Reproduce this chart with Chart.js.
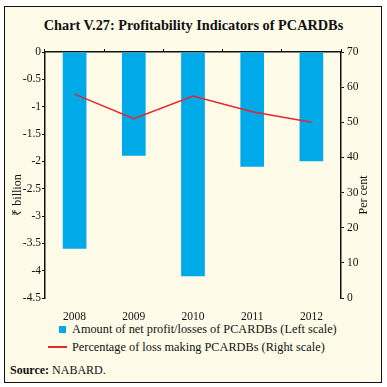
<!DOCTYPE html>
<html><head><meta charset="utf-8">
<script src="https://cdn.jsdelivr.net/npm/chart.js@4/dist/chart.umd.min.js"></script>
<style>
html,body{margin:0;padding:0;background:#fff;width:387px;height:387px;overflow:hidden;}
#frame{position:absolute;left:4px;top:6px;width:376px;height:375px;border:1.5px solid #111;background:#fefce8;}
#title{position:absolute;left:0;top:17px;width:387px;text-align:center;font:bold 14.3px "Liberation Serif",serif;color:#111;}
#wrap{position:absolute;left:0;top:40px;width:387px;height:280px;}
.leg{position:absolute;left:72px;font:12.3px "Liberation Serif",serif;color:#111;white-space:nowrap;}
#sw1{position:absolute;left:59px;top:326px;width:7px;height:7px;background:#00a9e8;}
#sw2{position:absolute;left:48px;top:346px;width:19px;height:2px;background:#e8262b;}
#src{position:absolute;left:10px;top:363px;font:12px "Liberation Serif",serif;color:#111;}
</style></head><body>
<div id="frame"></div>
<div id="title">Chart V.27: Profitability Indicators of PCARDBs</div>
<div id="wrap"><canvas id="c" width="387" height="280"></canvas></div>
<div id="sw1"></div><div class="leg" style="top:322px">Amount of net profit/losses of PCARDBs (Left scale)</div>
<div id="sw2"></div><div class="leg" style="top:340px">Percentage of loss making PCARDBs (Right scale)</div>
<div id="src"><b>Source:</b> NABARD.</div>
<script>
const categories = ['2008','2009','2010','2011','2012'];
const netProfitLoss = [-3.6, -1.9, -4.1, -2.1, -2.0];
const lossMakingPct = [58, 51, 57.5, 53, 50];
const leftTitle = '₹ billion';
const rightTitle = 'Per cent';

const tickFont = {family:'Liberation Serif', size:11.5};
const titlesPlugin = {
  id:'titles',
  afterDraw(chart){
    const ctx = chart.ctx;
    const cy = 155; // canvas y (page y 195)
    [[18, leftTitle],[364, rightTitle]].forEach(([x, t]) => {
      ctx.save();
      ctx.fillStyle = '#111';
      ctx.font = '12px "Liberation Serif"';
      ctx.textAlign = 'center';
      ctx.textBaseline = 'middle';
      ctx.translate(x, cy); ctx.rotate(-Math.PI/2); ctx.fillText(t, 0, 0);
      ctx.restore();
    });
  }
};

new Chart(document.getElementById('c'), {
  data:{
    labels: categories,
    datasets:[
      {type:'line', data: lossMakingPct, yAxisID:'y2', xAxisID:'x', borderColor:'#e8262b', borderWidth:1.5, pointRadius:0, tension:0, order:0},
      {type:'bar', data: netProfitLoss, yAxisID:'y', xAxisID:'x', backgroundColor:'#00a9e8', barPercentage:0.4, categoryPercentage:1, order:1}
    ]
  },
  options:{
    responsive:false, animation:false,
    layout:{padding:0},
    plugins:{legend:{display:false}, tooltip:{enabled:false}},
    scales:{
      x:{type:'category', position:'bottom', offset:true,
        grid:{display:false}, border:{display:false},
        ticks:{font:tickFont, color:'#111', padding:4, maxRotation:0},
        afterFit(s){ s.height = 22; }},
      xt:{type:'category', position:'top', labels: categories, offset:true,
        grid:{offset:true, drawOnChartArea:false, tickLength:3, color:'#111', lineWidth:1},
        border:{display:true, color:'#111', width:1.5},
        ticks:{display:false},
        afterFit(s){ s.height = 12; }},
      y:{position:'left', min:-4.5, max:0,
        ticks:{stepSize:0.5, font:tickFont, color:'#111', padding:1, callback:(v)=>String(v)},
        grid:{drawOnChartArea:false, tickLength:3, color:'#111'},
        border:{display:true, color:'#111', width:1.5},
        afterFit(s){ s.width = 45; }},
      y2:{position:'right', min:0, max:70,
        ticks:{stepSize:10, font:tickFont, color:'#111', padding:3, callback:(v)=>String(v)},
        grid:{drawOnChartArea:false, tickLength:3, color:'#111'},
        border:{display:true, color:'#111', width:1.5},
        afterFit(s){ s.width = 46; }}
    }
  },
  plugins:[titlesPlugin]
});
</script>
</body></html>
